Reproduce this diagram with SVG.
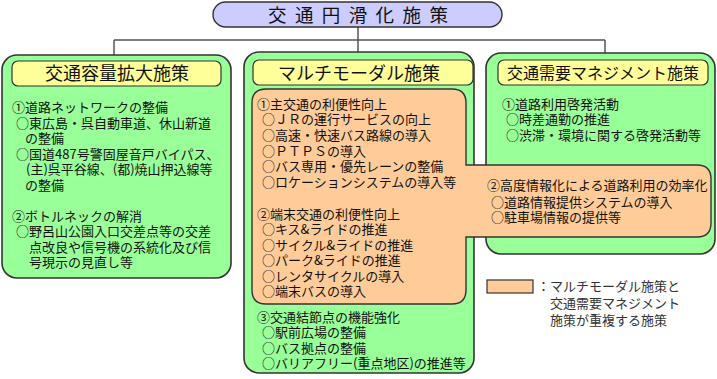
<svg xmlns="http://www.w3.org/2000/svg" width="717" height="379" viewBox="0 0 717 379">
<style>
text{font-family:"Noto Sans CJK JP","Noto Sans",sans-serif;fill:#111;font-size:13px}
.box{fill:#99ff99;stroke:#333;stroke-width:1.6}
.hd{fill:#ffff99;stroke:#333;stroke-width:1.2}
.ov{fill:#ffcc99;stroke:#333;stroke-width:1.4}
.con{fill:none;stroke:#555;stroke-width:1.5}
.h{font-size:18px}
.lg{fill:#333}
</style>
<rect width="717" height="379" fill="#fff"/>
<g id="connectors">
<path class="con" d="M358 27V52M114 40H605M114 40V55M605 40V53"/>
</g>
<g id="title">
<rect x="213" y="2" width="289" height="25" rx="12.5" fill="#ccccff" stroke="#333" stroke-width="1.4"/>
<text x="268" y="21.5" style="font-size:18.5px;letter-spacing:8.4px">交通円滑化施策</text>
</g>
<g id="node-capacity">
<rect class="box" x="2" y="55" width="229" height="223" rx="15"/>
<rect class="hd" x="12" y="61" width="209" height="25" rx="6"/>
<text class="h" x="117" y="80" text-anchor="middle">交通容量拡大施策</text>
<text><tspan x="12" y="112">①道路ネットワークの整備</tspan><tspan x="16" y="127.5">○東広島・呉自動車道、休山新道</tspan><tspan x="25" y="143">の整備</tspan><tspan x="16" y="158.5">○国道487号警固屋音戸バイパス、</tspan><tspan x="26" y="174">(主)呉平谷線、(都)焼山押込線等</tspan><tspan x="25" y="189.5">の整備</tspan></text>
<text><tspan x="12" y="220.5">②ボトルネックの解消</tspan><tspan x="16" y="236">○野呂山公園入口交差点等の交差</tspan><tspan x="29" y="251.5">点改良や信号機の系統化及び信</tspan><tspan x="29" y="267">号現示の見直し等</tspan></text>
</g>
<g id="node-multimodal">
<rect class="box" x="244" y="52" width="230" height="321" rx="15"/>
<rect class="hd" x="253" y="60" width="220" height="25" rx="6"/>
<text class="h" x="359" y="79.5" text-anchor="middle">マルチモーダル施策</text>
</g>
<g id="node-tdm">
<rect class="box" x="486" y="53" width="229" height="201" rx="15"/>
<rect class="hd" x="498" y="60" width="210" height="25" rx="6"/>
<text x="603" y="79" text-anchor="middle" style="font-size:16px">交通需要マネジメント施策</text>
<text><tspan x="502" y="108.5">①道路利用啓発活動</tspan><tspan x="506" y="124">○時差通勤の推進</tspan><tspan x="506" y="139.5">○渋滞・環境に関する啓発活動等</tspan></text>
</g>
<g id="node-overlap">
<path class="ov" d="M266 89H452Q466 89 466 103V165H697Q711 165 711 179V223Q711 237 697 237H466V290Q466 304 452 304H266Q252 304 252 290V103Q252 89 266 89Z"/>
<text><tspan x="257" y="108.5">①主交通の利便性向上</tspan><tspan x="262" y="124.2">○ＪＲの運行サービスの向上</tspan><tspan x="262" y="139.9">○高速・快速バス路線の導入</tspan><tspan x="262" y="155.6">○ＰＴＰＳの導入</tspan><tspan x="262" y="171.3">○バス専用・優先レーンの整備</tspan><tspan x="262" y="187">○ロケーションシステムの導入等</tspan></text>
<text><tspan x="257" y="218.5">②端末交通の利便性向上</tspan><tspan x="262" y="234">○キス&amp;ライドの推進</tspan><tspan x="262" y="249.5">○サイクル&amp;ライドの推進</tspan><tspan x="262" y="265">○パーク&amp;ライドの推進</tspan><tspan x="262" y="280.5">○レンタサイクルの導入</tspan><tspan x="262" y="296">○端末バスの導入</tspan></text>
<text><tspan x="487" y="190">②高度情報化による道路利用の効率化</tspan><tspan x="491" y="206.5">○道路情報提供システムの導入</tspan><tspan x="491" y="222">○駐車場情報の提供等</tspan></text>
</g>
<g id="node-multimodal-3">
<text><tspan x="257" y="321.5">③交通結節点の機能強化</tspan><tspan x="262" y="337">○駅前広場の整備</tspan><tspan x="262" y="352.5">○バス拠点の整備</tspan><tspan x="262" y="368">○バリアフリー(重点地区)の推進等</tspan></text>
</g>
<g id="legend">
<rect x="487" y="280" width="46" height="13" fill="#ffcc99" stroke="#333" stroke-width="1.2"/>
<text class="lg"><tspan x="537" y="290.5">：マルチモーダル施策と</tspan><tspan x="550" y="308">交通需要マネジメント</tspan><tspan x="550" y="325">施策が重複する施策</tspan></text>
</g>
</svg>
